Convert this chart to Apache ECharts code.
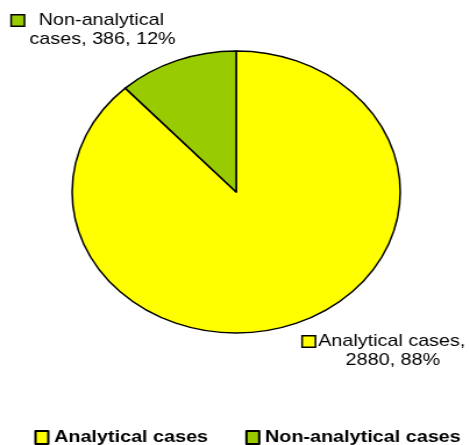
<!DOCTYPE html>
<html>
<head>
<meta charset="utf-8">
<script src="https://cdn.jsdelivr.net/npm/echarts@6/dist/echarts.min.js"></script>
<style>
html,body{margin:0;padding:0;background:#fff;overflow:hidden;}
#wrap{width:470px;height:445px;overflow:hidden;}
#chart{width:404px;height:445px;transform:scaleX(1.1634);transform-origin:0 0;}
</style>
</head>
<body>
<div id="wrap"><div id="chart"></div></div>
<script>
const categories = ['Analytical cases', 'Non-analytical cases'];
const values = [2880, 386];
const colors = ['#FFFF00', '#99CC00'];

const FONT = 'Arial, "Liberation Sans", sans-serif';

function wrapText(txt, maxChars) {
  const words = txt.split(' ');
  const lines = [];
  let cur = '';
  words.forEach(w => {
    const cand = cur ? cur + ' ' + w : w;
    if (cand.length > maxChars && cur) { lines.push(cur); cur = w; }
    else cur = cand;
  });
  if (cur) lines.push(cur);
  return lines;
}

const chart = echarts.init(document.getElementById('chart'), null, {renderer: 'canvas'});

const rich = {
  t: {fontSize: 17, fontFamily: FONT, color: '#000', lineHeight: 19, align: 'center'},
  g: {width: 3, height: 10, align: 'left'},
  sp: {width: 15, height: 10, align: 'left'}
};
categories.forEach((c, i) => {
  rich['ic' + i] = {width: 10, height: 10, backgroundColor: colors[i], borderColor: '#000', borderWidth: 1.5, align: 'left'};
});

const labelPos = [[260.4, 332], [10.3, 11]];

chart.setOption({
  animation: false,
  color: colors,
  legend: {
    orient: 'horizontal',
    left: 29.5,
    top: 429,
    width: 380,
    padding: 0,
    icon: 'rect',
    itemWidth: 11,
    itemHeight: 13,
    itemGap: 32,
    itemStyle: {borderColor: '#000', borderWidth: 2},
    textStyle: {fontSize: 17, fontWeight: 'bold', fontFamily: FONT, color: '#000'},
    data: categories
  },
  series: [{
    type: 'pie',
    center: [203, 192],
    radius: 141,
    startAngle: 90,
    clockwise: true,
    avoidLabelOverlap: false,
    itemStyle: {borderColor: '#000', borderWidth: 1.5},
    emphasis: {disabled: true},
    labelLine: {show: false},
    label: {
      show: true,
      position: 'outside',
      formatter: p => {
        const lines = wrapText(p.name + ', ' + p.value + ', ' + Math.round(p.percent) + '%', 18);
        return lines.map((l, k) => (k === 0 ? '{ic' + p.dataIndex + '|}{g|}' : '{sp|}') + '{t|' + l + '}').join('\n');
      },
      rich: rich
    },
    labelLayout: params => ({
      x: labelPos[params.dataIndex][0],
      y: labelPos[params.dataIndex][1],
      align: 'left',
      verticalAlign: 'top'
    }),
    data: categories.map((c, i) => ({name: c, value: values[i]}))
  }]
});
</script>
</body>
</html>
